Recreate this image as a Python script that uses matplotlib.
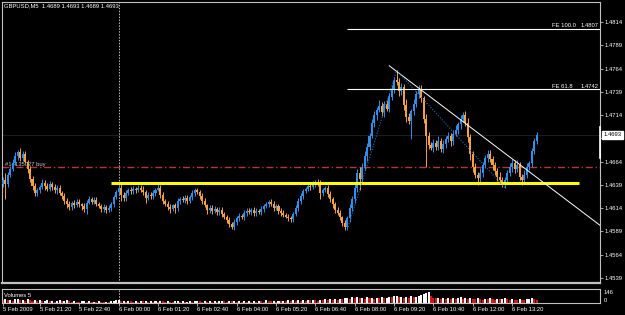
import matplotlib
matplotlib.use("Agg")
import matplotlib.pyplot as plt
import matplotlib.transforms as mtrans

plt.rcParams['font.family'] = ['Liberation Sans', 'DejaVu Sans']

# GBPUSD M5 from 5 Feb 2009 20:05 to 6 Feb 14:10, prices in pips above 1.4600
base = 1.4600
first_open = 40
close_pips = [
    44, 40, 50, 56, 63, 70, 74, 68, 72, 64,
    56, 45, 38, 30, 33, 37, 41, 38, 35, 40,
    37, 33, 36, 30, 27, 22, 18, 15, 20, 17,
    21, 18, 16, 13, 20, 24, 21, 23, 19, 16,
    13, 15, 12, 14, 18, 26, 31, 36, 28, 25,
    30, 34, 32, 35, 33, 36, 34, 31, 25, 28,
    27, 30, 34, 36, 28, 22, 19, 15, 13, 17,
    14, 22, 24, 23, 25, 22, 26, 30, 33, 31,
    27, 22, 17, 12, 14, 11, 13, 10, 12, 8,
    4, 1, -3, -6, -1, 3, 6, 4, 9, 11,
    10, 12, 9, 11, 10, 13, 16, 18, 21, 19,
    14, 16, 11, 9, 7, 5, 3, 2, 8, 14,
    22, 27, 32, 35, 38, 37, 40, 42, 41, 30,
    33, 36, 29, 24, 18, 12, 9, 4, -2, -6,
    3, 14, 24, 36, 52, 45, 58, 70, 80, 92,
    105, 114, 120, 124, 117, 126, 121, 133, 142, 152,
    150, 140, 144, 125, 112, 108, 118, 126, 137, 142,
    132, 110, 92, 82, 79, 84, 80, 86, 78, 83,
    88, 92, 86, 94, 98, 104, 110, 114, 106, 90,
    72, 58, 50, 46, 52, 60, 68, 72, 67, 60,
    54, 48, 44, 40, 44, 52, 58, 63, 56, 60,
    48, 44, 50, 58, 62, 75, 86, 93,
]
wick_up = [
    3, 8, 3, 3, 4, 4, 3, 5, 3, 3, 2, 3, 4, 3, 3, 2, 4, 3, 3, 3,
    2, 3, 3, 3, 2, 3, 3, 4, 2, 3, 3, 3, 2, 4, 3, 3, 2, 3, 3, 2,
    3, 3, 2, 3, 3, 2, 3, 6, 4, 3, 3, 2, 3, 3, 2, 3, 3, 4, 2, 3,
    3, 3, 2, 4, 3, 3, 2, 3, 3, 2, 3, 3, 2, 3, 3, 3, 2, 3, 3, 3,
    2, 3, 3, 2, 3, 3, 3, 2, 3, 3, 2, 3, 3, 2, 3, 3, 3, 2, 3, 3,
    3, 2, 3, 3, 2, 3, 3, 3, 2, 3, 3, 3, 2, 3, 3, 2, 3, 3, 2, 3,
    3, 3, 3, 2, 3, 3, 3, 2, 3, 3, 3, 2, 3, 3, 2, 3, 3, 3, 2, 3,
    3, 4, 3, 5, 4, 6, 4, 5, 4, 3, 5, 4, 3, 6, 4, 3, 4, 5, 4, 3,
    10, 4, 5, 3, 6, 4, 3, 5, 3, 4, 4, 3, 5, 4, 3, 4, 3, 5, 3, 4,
    3, 4, 3, 4, 5, 3, 4, 3, 4, 5, 4, 3, 4, 3, 5, 4, 3, 4, 5, 3,
    4, 3, 5, 3, 4, 3, 5, 4, 3, 6, 4, 3, 5, 4, 3, 4, 3, 3,
]
wick_dn = [
    3, 16, 3, 3, 2, 3, 4, 3, 3, 2, 4, 3, 5, 3, 3, 3, 2, 4, 3, 3,
    3, 3, 4, 2, 3, 3, 4, 3, 3, 3, 2, 3, 4, 3, 5, 2, 3, 3, 3, 2,
    3, 3, 3, 2, 3, 3, 2, 3, 6, 3, 3, 2, 3, 3, 3, 2, 3, 3, 5, 2,
    3, 3, 3, 2, 3, 4, 3, 3, 4, 2, 5, 3, 3, 2, 3, 3, 2, 3, 3, 2,
    3, 3, 2, 4, 3, 3, 2, 3, 3, 3, 2, 3, 3, 2, 3, 3, 3, 2, 3, 3,
    2, 3, 3, 3, 2, 3, 3, 2, 3, 3, 3, 2, 3, 3, 3, 2, 3, 3, 3, 2,
    3, 3, 3, 2, 3, 3, 2, 3, 3, 6, 3, 2, 3, 3, 4, 3, 2, 3, 3, 3,
    3, 4, 3, 4, 5, 12, 4, 3, 5, 4, 3, 4, 5, 3, 4, 5, 3, 4, 3, 4,
    4, 5, 4, 6, 5, 4, 20, 4, 3, 5, 4, 5, 34, 4, 3, 5, 4, 3, 4, 5,
    4, 3, 5, 4, 3, 4, 5, 3, 4, 5, 6, 5, 4, 7, 4, 5, 3, 4, 3, 5,
    4, 5, 4, 3, 4, 4, 3, 5, 4, 3, 4, 5, 3, 4, 3, 4, 3, 3,
]
volumes = [
    40, 52, 38, 45, 30, 48, 55, 36, 42, 28,
    50, 35, 30, 42, 25, 38, 22, 30, 40, 26,
    33, 20, 28, 35, 24, 30, 45, 22, 18, 26,
    20, 15, 22, 30, 18, 24, 16, 20, 14, 22,
    18, 12, 20, 16, 25, 30, 34, 38, 22, 28,
    20, 30, 25, 18, 24, 20, 28, 22, 30, 18,
    24, 16, 26, 20, 32, 22, 18, 26, 20, 15,
    22, 28, 18, 24, 16, 20, 26, 18, 22, 30,
    24, 18, 26, 20, 28, 16, 22, 18, 24, 32,
    26, 20, 30, 22, 28, 18, 24, 20, 26, 16,
    22, 18, 28, 20, 30, 24, 18, 34, 26, 22,
    28, 20, 32, 24, 30, 22, 36, 26, 40, 30,
    34, 28, 38, 30, 42, 34, 46, 36, 30, 44,
    38, 48, 40, 52, 44, 56, 46, 60, 48, 62,
    70, 58, 76, 64, 82, 66, 72, 60, 78, 64,
    70, 58, 74, 62, 80, 66, 72, 84, 76, 90,
    96, 80, 88, 72, 84, 70, 92, 78, 86, 100,
    110, 122, 135, 146, 90, 70, 62, 74, 58, 66,
    54, 62, 50, 70, 58, 64, 76, 60, 68, 56,
    72, 58, 48, 62, 54, 44, 58, 50, 66, 52,
    46, 60, 50, 56, 64, 48, 42, 54, 46, 40,
    52, 44, 38, 50, 58, 62, 48, 36,
]

time_ticks = [0, 15, 31, 47, 63, 79, 95, 111, 127, 143, 159, 175, 191, 207]
time_labels = ["5 Feb 2009", "5 Feb 21:20", "5 Feb 22:40", "6 Feb 00:00",
               "6 Feb 01:20", "6 Feb 02:40", "6 Feb 04:00", "6 Feb 05:20",
               "6 Feb 06:40", "6 Feb 08:00", "6 Feb 09:20", "6 Feb 10:40",
               "6 Feb 12:00", "6 Feb 13:20"]
price_ticks = [1.4539, 1.4564, 1.4589, 1.4614, 1.4639, 1.4664, 1.4689,
               1.4714, 1.4739, 1.4764, 1.4789, 1.4814]

header = "GBPUSD,M5  1.4689 1.4693 1.4689 1.4693"
last_price = 1.4693
vol_max = 146
order_price = 1.4658
order_label = "#14135027 buy"
day_sep = 47
support = (44, 234, 1.4641)
trend = [(157, 1.4767), (243, 1.4595)]
fe_points = [(140, 1.4591), (160, 1.4762), (204, 1.4636)]
fe_levels = [100.0, 61.8]

W, H = 625, 315
bull, bear = '#2f8fea', '#f4a140'
frame = '#c0c0c0'
fs = 4.2

fig = plt.figure(figsize=(W / 100, H / 100), dpi=100)
fig.patch.set_facecolor('black')
ax = fig.add_axes([2 / W, 1 - 283 / H, 598 / W, 281 / H])
vax = fig.add_axes([2 / W, 1 - 303 / H, 598 / W, 14 / H])
for a in (ax, vax):
    a.set_facecolor('black')
    for s in a.spines.values():
        s.set_color(frame)
        s.set_linewidth(0.8)
    a.set_xlim(-0.4, 242.7)
ax.spines['bottom'].set_linewidth(1.6)

# candles
opens = [first_open] + close_pips[:-1]
for i, (o, c) in enumerate(zip(opens, close_pips)):
    col = bull if c >= o else bear
    hi = base + (max(o, c) + wick_up[i]) / 1e4
    lo = base + (min(o, c) - wick_dn[i]) / 1e4
    ax.vlines(i, lo, hi, color=col, lw=0.7, zorder=3)
    body = max(abs(c - o), 0.8) / 1e4
    ax.bar(i, body, bottom=base + min(o, c) / 1e4, width=0.82, color=col,
           linewidth=0, zorder=3)

ax.set_ylim(1.45336, 1.48355)

# objects on the chart
ax.axhline(last_price, color='#222222', lw=0.6, zorder=1)
ax.axhline(order_price, color='#b03a3a', lw=1.0, ls=(0, (5, 2, 1, 2)), zorder=2)
ax.text(0.8, order_price + 0.00005, order_label, color='#c8c8c8', fontsize=fs,
        va='bottom', ha='left', zorder=2)
ax.hlines(support[2], support[0], support[1], color='#ffff00', lw=2.2, zorder=4)
(x1, y1), (x2, y2) = trend
ax.plot([x1, x2], [y1, y2], color='white', lw=0.7, zorder=5)
ax.plot([p[0] for p in fe_points], [p[1] for p in fe_points], color='#2a6fc0',
        lw=0.8, ls=(0, (1, 1.5)), zorder=5)
a_, b_, c_ = fe_points
for lev in fe_levels:
    price = c_[1] + (b_[1] - a_[1]) * lev / 100
    ax.hlines(price, a_[0], 243, color='white', lw=0.8, zorder=5)
    ax.text(223.2, price + 0.00003, f"FE {lev:.1f}", color='white', fontsize=fs,
            va='bottom', ha='left')
    ax.text(241.9, price + 0.00003, f"{price:.4f}", color='white', fontsize=fs,
            va='bottom', ha='right')
for a in (ax, vax):
    a.axvline(day_sep, color=frame, lw=0.7, ls=(0, (1.5, 1.5)), zorder=1)

# right price scale
ax.yaxis.tick_right()
ax.set_yticks(price_ticks)
ax.set_yticklabels([f"{p:.4f}" for p in price_ticks])
ax.tick_params(axis='y', colors=frame, labelcolor='white', labelsize=fs,
               length=2, width=0.6, pad=1)
ax.set_xticks([])
blend = mtrans.blended_transform_factory(ax.transAxes, ax.transData)
ax.text(1.006, last_price, f"{last_price:.4f}", transform=blend, fontsize=fs,
        color='black', va='center', ha='left', clip_on=False, zorder=10,
        bbox=dict(boxstyle='square,pad=0.25', fc='white', ec='white'))
ax.plot([1.0, 1.0], [1.4701, 1.4668], transform=blend, color='white', lw=1.2,
        clip_on=False, zorder=10)

# volumes
vcols = ['white' if i > 0 and v > volumes[i - 1] else '#d01818'
         for i, v in enumerate(volumes)]
vax.bar(range(len(volumes)), volumes, width=0.82, color=vcols, linewidth=0)
vax.set_ylim(0, vol_max * 1.3)
vax.set_yticks([])
vax.set_xticks(time_ticks)
vax.set_xticklabels(time_labels, ha='left')
vax.tick_params(axis='x', colors=frame, labelcolor='white', labelsize=fs,
                length=2, width=0.6, pad=1)

fig.text(4 / W, 1 - 6 / H, header, color='white', fontsize=fs, va='center')
fig.text(4 / W, 1 - 295.5 / H, "Volumes 5", color='white', fontsize=fs, va='center')
fig.text(604 / W, 1 - 293 / H, str(vol_max), color='white', fontsize=fs, va='center')
fig.text(604 / W, 1 - 300 / H, "0", color='white', fontsize=fs, va='center')

fig.savefig("out.png", dpi=100, facecolor='black')
